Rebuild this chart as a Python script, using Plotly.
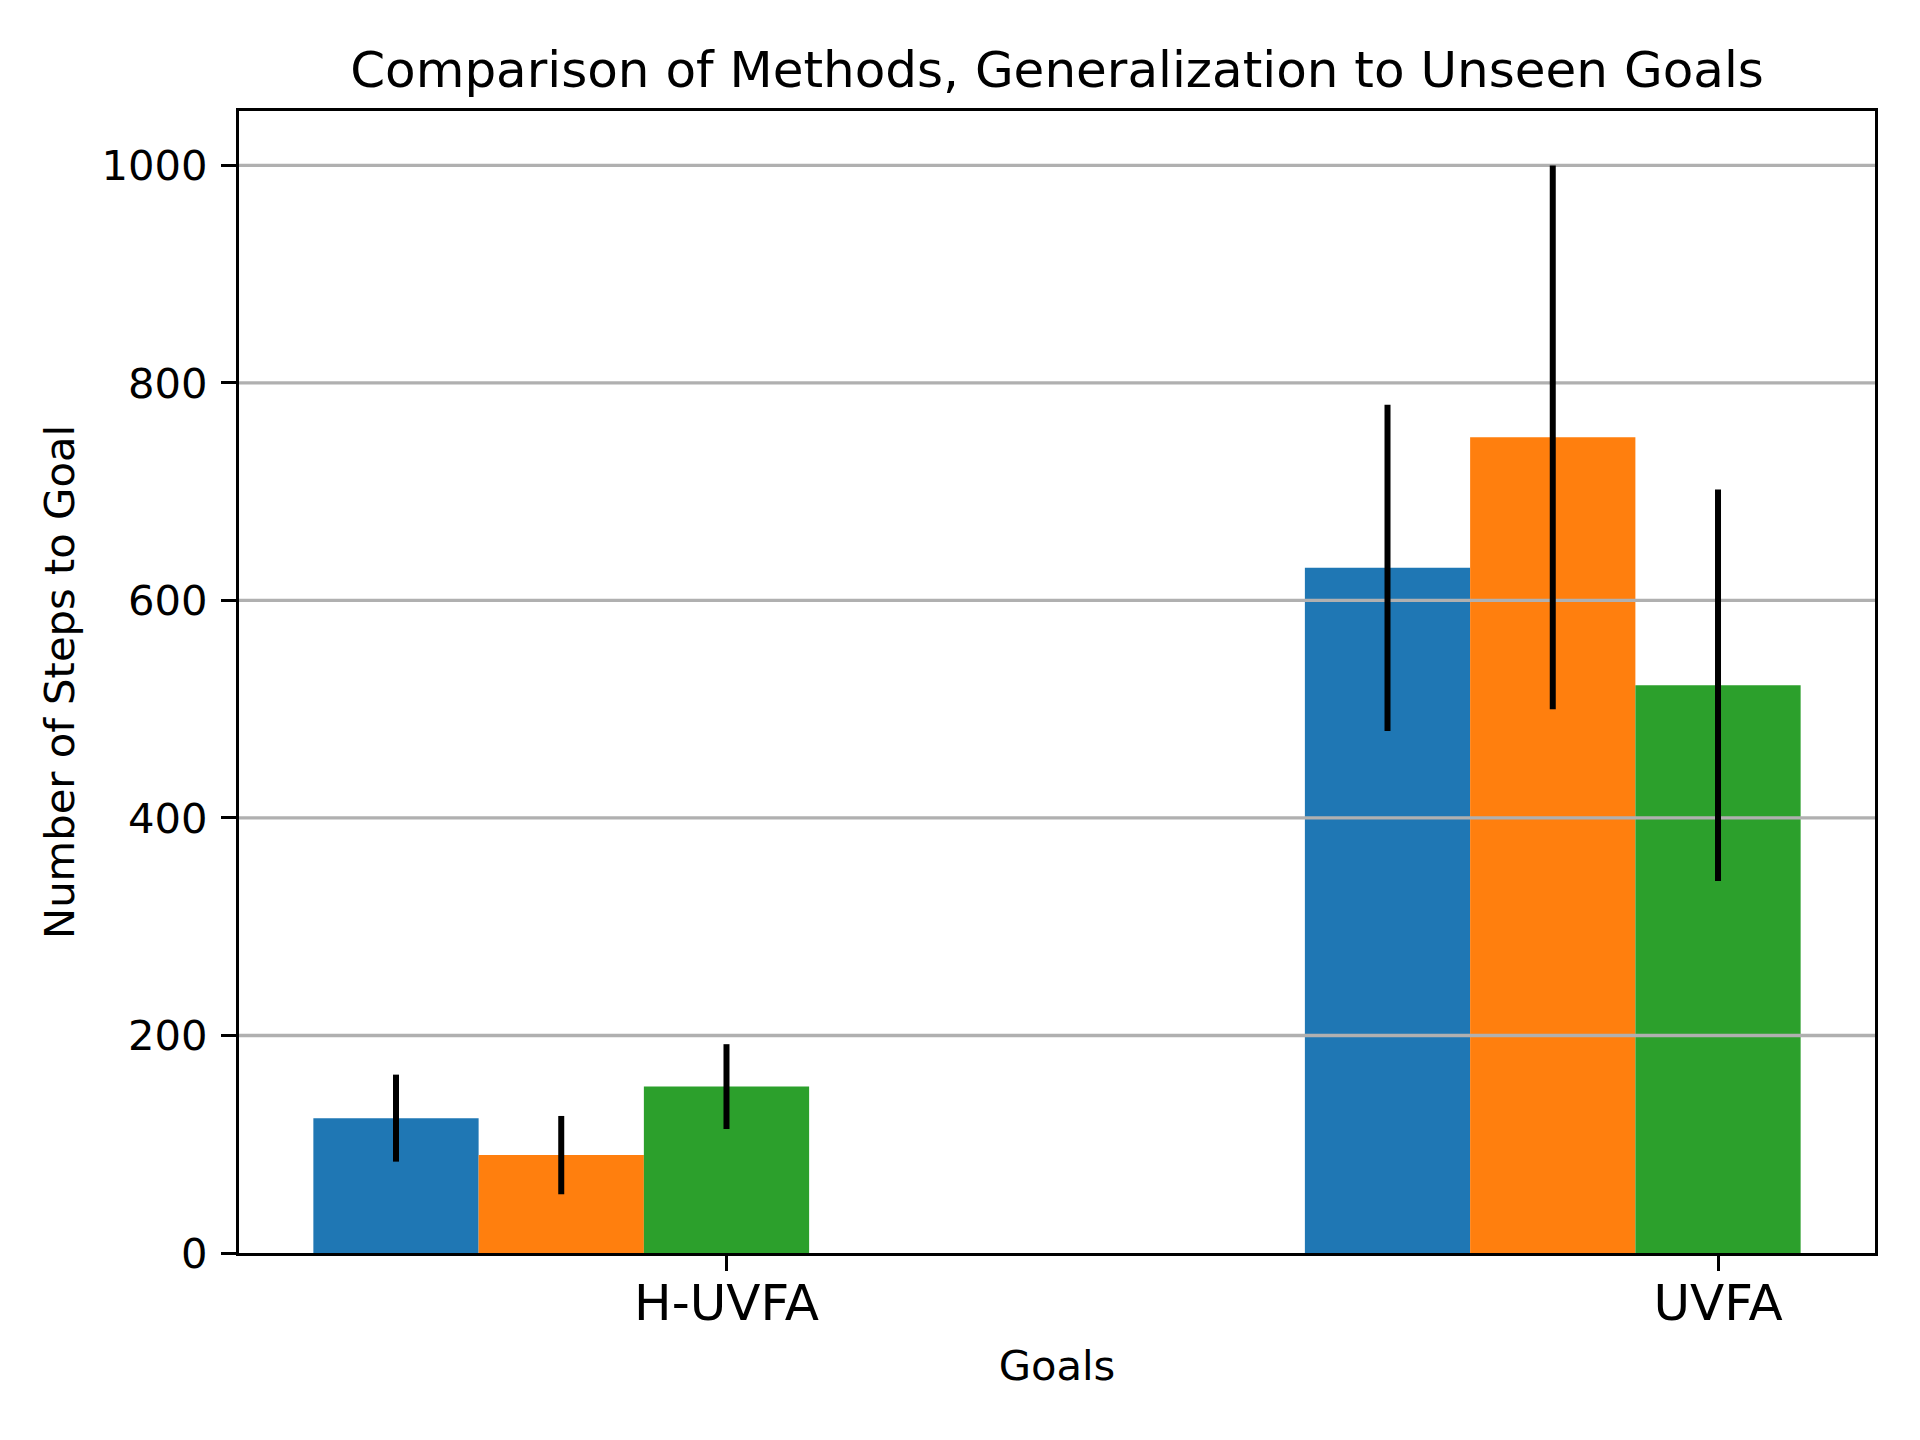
import plotly.graph_objects as go

categories = ["H-UVFA", "UVFA"]
series_names = ["Method A", "Method B", "Method C"]
means_a = [124, 630]
means_b = [90, 750]
means_c = [153, 522]
errs_a = [40, 150]
errs_b = [36, 250]
errs_c = [39, 180]
colors = ["#1f77b4", "#ff7f0e", "#2ca02c"]
y_ticks = [0, 200, 400, 600, 800, 1000]

means = [means_a, means_b, means_c]
errs = [errs_a, errs_b, errs_c]

W = 1 / 6
offsets = [-2 * W, -W, 0]
idx = list(range(len(categories)))
x_lo = -2.5 * W
x_hi = (len(categories) - 1) + 0.5 * W
pad = (x_hi - x_lo) * 0.05
x_range = [x_lo - pad, x_hi + pad]

FONT = "DejaVu Sans"
FW, FH = 1904, 1424
fig = go.Figure()

for name, m, c, off in zip(series_names, means, colors, offsets):
    fig.add_trace(go.Bar(
        x=[i + off for i in idx], y=m, width=W, name=name,
        marker=dict(color=c, line=dict(width=0)), showlegend=False,
    ))

# grid lines drawn above bars (as matplotlib does), below error bars
for t in y_ticks[1:]:
    fig.add_trace(go.Scatter(
        x=x_range, y=[t, t], mode="lines",
        line=dict(color="#b0b0b0", width=3.3),
        hoverinfo="skip", showlegend=False, cliponaxis=True,
    ))

for name, m, e, off in zip(series_names, means, errs, offsets):
    fig.add_trace(go.Scatter(
        x=[i + off for i in idx], y=m, mode="markers",
        marker=dict(size=0.1, opacity=0, color="black"),
        error_y=dict(type="data", array=e, visible=True, color="black",
                     thickness=6, width=0),
        showlegend=False, name=name,
    ))

fig.update_layout(
    width=FW, height=FH,
    margin=dict(l=231, r=37, t=103, b=179),
    paper_bgcolor="white", plot_bgcolor="white",
    barmode="overlay",
    font=dict(family=FONT, color="black"),
    title=dict(text="Comparison of Methods, Generalization to Unseen Goals",
               font=dict(family=FONT, size=50, color="black"),
               x=(231 + 1867) / 2 / FW, xanchor="center",
               y=1 - 61 / FH, yanchor="middle", yref="container"),
    showlegend=False,
)

fig.update_xaxes(
    range=x_range, tickmode="array", tickvals=idx, ticktext=categories,
    tickfont=dict(family=FONT, size=50, color="black"),
    ticks="outside", ticklen=15, tickwidth=3.3, tickcolor="black",
    ticklabelstandoff=-11,
    showline=True, linecolor="black", linewidth=3.3, mirror=True,
    showgrid=False, zeroline=False,
    title=dict(text="Goals", font=dict(family=FONT, size=41.7, color="black"),
               standoff=20),
)
fig.update_yaxes(
    range=[0, 1050], tickmode="array", tickvals=y_ticks,
    tickfont=dict(family=FONT, size=41.7, color="black"),
    ticks="outside", ticklen=15, tickwidth=3.3, tickcolor="black",
    ticklabelstandoff=5,
    showline=True, linecolor="black", linewidth=3.3, mirror=True,
    showgrid=False, zeroline=False,
    title=dict(text="Number of Steps to Goal",
               font=dict(family=FONT, size=41.7, color="black"), standoff=14),
)

fig.write_html("out.html")
